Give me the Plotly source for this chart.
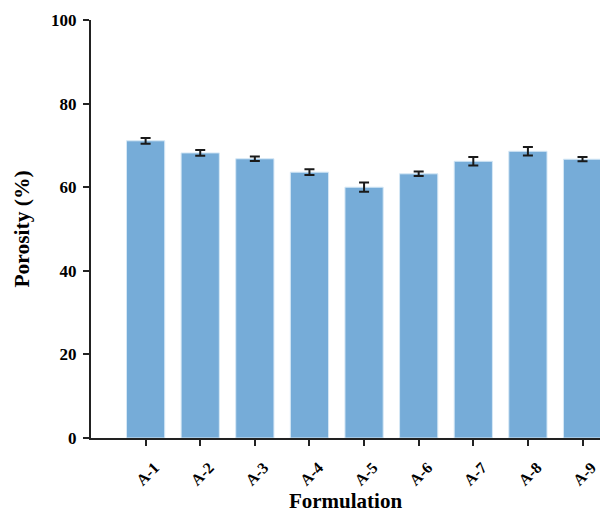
import plotly.graph_objects as go

categories = ["A-1", "A-2", "A-3", "A-4", "A-5", "A-6", "A-7", "A-8", "A-9"]
porosity = [71.1, 68.2, 66.8, 63.6, 60.0, 63.2, 66.2, 68.6, 66.7]
errors = [0.7, 0.7, 0.55, 0.7, 1.1, 0.55, 1.0, 1.0, 0.5]
y_ticks = [0, 20, 40, 60, 80, 100]

font_family = "Liberation Serif, Times New Roman, serif"

fig = go.Figure()
fig.add_trace(go.Bar(
    x=categories,
    y=porosity,
    width=0.7,
    marker=dict(color="#76acd8", line=dict(color="#d6e8f6", width=1)),
    error_y=dict(type="data", array=errors, visible=True, color="#1a1a1a", thickness=2, width=5),
))

fig.update_layout(
    width=600, height=516,
    margin=dict(l=91, r=0, t=20, b=78),
    paper_bgcolor="white", plot_bgcolor="white",
    showlegend=False,
    font=dict(family=font_family, color="black"),
    xaxis=dict(
        range=[-1, 8.32],
        automargin=False,
        showline=True, linecolor="#222", linewidth=2,
        ticks="outside", ticklen=6, tickwidth=2, tickcolor="#222",
        tickangle=-45, ticklabelshift=9, ticklabelstandoff=6,
        tickfont=dict(size=16, family=font_family, color="black", weight="bold"),
        title=dict(text="<b>Formulation</b>", font=dict(size=21), standoff=6),
        showgrid=False, zeroline=False,
    ),
    yaxis=dict(
        range=[0, 100],
        automargin=False,
        tickvals=y_ticks,
        showline=True, linecolor="#222", linewidth=2,
        ticks="outside", ticklen=6, tickwidth=2, tickcolor="#222",
        ticklabelstandoff=3,
        tickfont=dict(size=17, family=font_family, color="black", weight="bold"),
        title=dict(text="<b>Porosity (%)</b>", font=dict(size=21.5), standoff=16),
        showgrid=False, zeroline=False,
    ),
)

fig.write_html(
    "out.html",
    config={"displayModeBar": False},
    post_script="document.body.style.margin='0';document.body.style.padding='0';",
)
